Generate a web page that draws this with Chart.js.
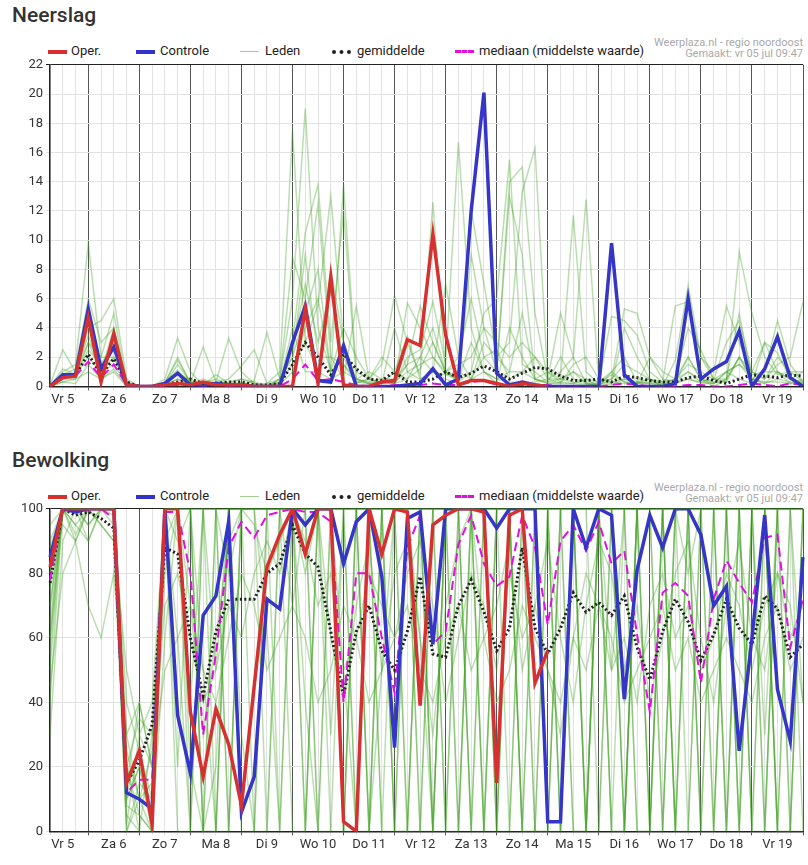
<!DOCTYPE html>
<html>
<head>
<meta charset="utf-8">
<script src="https://cdn.jsdelivr.net/npm/chart.js@4"></script>
<style>
  body { margin: 0; background: #fff; font-family: Roboto, "Liberation Sans", sans-serif; color: #333; }
  .wrap { position: relative; width: 808px; height: 865px; }
  .title { position: absolute; left: 12px; font-size: 21px; font-weight: 500; color: #333; }
  .legend { position: absolute; left: 0; font-size: 13px; color: #222; white-space: nowrap; }
  .legend span.item { position: absolute; top: 0; }
  .sw { position: absolute; top: 7px; width: 19px; height: 0; }
  .credit { position: absolute; right: 5px; font-size: 11px; color: #aaa; text-align: right; line-height: 11px; }
  canvas { position: absolute; left: 0; }
</style>
</head>
<body>
<div class="wrap">
  <div class="title" style="top:3px">Neerslag</div>
  <div class="credit" style="top:37px">Weerplaza.nl - regio noordoost<br>Gemaakt: vr 05 jul 09:47</div>
  <div class="legend" style="top:43px" id="leg1"></div>
  <div style="position:absolute;top:54px;left:0;width:808px;height:356px"><canvas id="c1"></canvas></div>

  <div class="title" style="top:448px">Bewolking</div>
  <div class="credit" style="top:482px">Weerplaza.nl - regio noordoost<br>Gemaakt: vr 05 jul 09:47</div>
  <div class="legend" style="top:488px" id="leg2"></div>
  <div style="position:absolute;top:498px;left:0;width:808px;height:357px"><canvas id="c2"></canvas></div>
</div>
<script>
// 6-hourly steps from Vr 5 06:00 to Do 20 00:00
const days = ["Vr 5", "Za 6", "Zo 7", "Ma 8", "Di 9", "Wo 10", "Do 11", "Vr 12", "Za 13", "Zo 14", "Ma 15", "Di 16", "Wo 17", "Do 18", "Vr 19", "Za 20"];
const hours = ["06", "12", "18", "24"];

// Neerslag (mm)
const rainOper = [0,0.6,0.7,4.7,0.3,3.6,0.1,0,0,0.1,0.2,0.1,0.3,0.1,0.1,0.1,0,0,0,0,5.3,0.2,7.5,0.1,0,0,0.3,0.4,3.2,2.8,10.4,3.5,0.1,0.4,0.4,0.2,0,0.2,0.1,0];
const rainControle = [0,0.8,0.8,5.3,1.2,2.7,0.1,0,0,0.2,0.9,0.1,0,0.2,0.1,0.1,0,0,0,3.0,5.5,0.4,0.3,2.8,0,0,0,0,0.1,0.2,1.2,0.1,0.5,12,20.1,0.9,0.1,0.3,0.1,0,0,0,0,0,9.8,0.8,0,0,0,0.2,6.0,0.5,1.2,1.7,3.8,0,1.2,3.4,0.6,0];
const rainMean = [0,0.7,0.8,2.2,0.8,1.9,0.3,0,0,0.1,0.3,0.5,0.2,0.2,0.3,0.3,0.1,0.1,0.2,1.5,3.0,2.0,0.8,2.2,1.2,0.5,0.4,1.0,0.3,0.3,0.5,1.0,0.6,0.9,1.4,1.0,0.5,0.9,1.3,1.2,0.7,0.4,0.4,0.5,0.3,0.7,0.6,0.4,0.3,0.3,0.6,0.7,0.4,0.2,0.5,0.8,0.7,0.6,0.8,0.7];
const rainMedian = [0,0.6,0.7,1.7,0.6,1.5,0.1,0,0,0,0.1,0.1,0,0.1,0,0,0,0,0,0.5,1.5,0.4,0.5,0.3,0.1,0,0,0.1,0.1,0.1,0.2,0.1,0.1,0.3,0.4,0.1,0.1,0.1,0.1,0.1,0,0,0,0,0.1,0.2,0.1,0,0,0,0.1,0.1,0,0,0.1,0.2,0.1,0,0.2,0.1];
const rainLeden = [
  [0,0.5,1,3,1,4,0.2,0,0,0.1,1.5,0.3,0.2,0.5,0.1,0.3,0,0,0.5,6,19,4,1,2,0.3,0.5,0.2,1,0.5,1.2,3,1,0.5,3,1,0.2,4,2,0.5,1,0.3,0.2,0.5,0,1,0.3,0.2,0.5,0,0.3,2,0.5,0.2,1,0.5,0.2,3,1,0.2,0.5],
  [0,1,1.5,9.8,2,2,0.1,0,0,0.5,3.3,1,0.1,0.3,3.3,1,0.2,0,0.3,3,10.5,13.8,3,12,0.5,1,0.5,0.2,1.5,5.5,3,1,2,6,2,1,14,15,5,0.5,1,2,0.2,0.1,0.5,5.3,5,2,0.5,0.3,1,0.5,0,0.5,2,0.5,0.2,1,0.5,0.2],
  [0.1,2.5,1,4,4.5,6,0.5,0,0,0.3,1.1,0.2,2.7,0.3,0.5,1.4,2.5,0.2,0.5,8.8,6,12.5,2,1.5,0.2,0.5,1.5,6.2,3,0.8,12.6,1,0.5,12.1,7,2,3,13.3,16.3,0.5,5,2,12.8,0.3,1,2,0.3,0.5,0,1.8,6.9,2,0.5,3,4.5,1,0.5,2,1,0.3],
  [0,0.5,0.8,2,1,2,0.3,0,0.1,0.2,0.8,0.5,0.1,0.8,0.2,0.1,0.4,3.7,0.5,2,5,8,1,4,2,0.5,0.3,0.2,5.7,4,2,1,0.3,1,5,6,15.5,1.5,1,0.3,0.5,11.7,1,0.2,4.8,4.5,3.5,1,0.3,5.5,5.8,2,1,5.5,3,1,0.5,1.5,2,5.8],
  [0,0.8,1.2,6,3,4,0.2,0,0,0.2,2,0.2,0.5,0.2,0.3,0.5,0.2,0.2,1,17.5,3,5.6,13,3,0.3,0.2,0.3,0.2,2,2.5,5.8,1.5,16.7,4,1,0.5,1,1,0.5,0.2,0.3,1,0.2,0,0.1,0.5,0.3,0.2,0.1,0.5,1,0.3,0.2,1,1.5,0.5,1,4.5,1.5,0.3],
  [0,0.3,0.5,3,2,5,0.1,0,0,0.1,0.5,0.1,0.1,0.2,0.1,0.1,0,0,0.1,1,4,6,1,13.8,1,0.5,2,1,3.4,0.5,1,7,2,0.5,3,2,1,5,0.5,0.3,2,0.5,0.3,0.2,0.8,0.3,0.2,2,1,0.5,2,0.5,0.3,0.3,9.2,5,2,0.8,1,1],
  [0,0.5,0.5,1,0.5,1,0,0,0,0,0.3,0.1,0.1,0.1,0,0.1,0,0,0.2,4,1,1,8,3,0.5,0.2,0.3,0.2,0.5,2,1,0.8,0.5,9,4,1,13,9,0.5,0.2,0.2,0.2,0.1,0.2,0.3,0.2,0.2,0.2,0.1,0.3,0.5,0.2,0.2,0.5,5,0.5,0.2,0.5,0.3,0.2],
  [0,1.2,0.8,2.5,1.5,3,0.2,0,0,0.3,1.8,0.3,0.2,0.3,0.2,0.5,0.3,0,0.5,2,9,2,2,0.5,5.5,0.5,0.2,0.3,1,1.5,2,0.8,1,0.5,2,2.5,0.5,1,2,1,0.5,0.3,0.2,0.1,0.2,4,2,0.5,0.3,0.5,4,2.5,0.5,0.5,2,1,3,2.3,0.5,1],
  [0,0.3,0.2,1.5,0.5,1.2,0,0,0,0.1,0.5,0.1,0.1,0.1,0.1,0.1,0.1,0.1,0.2,1.5,3,1,0.5,1,0.5,0.2,0.2,4,1,0.5,1,0.5,0.2,0.5,1,0.5,0.3,0.2,0.3,0.5,0.2,1.5,2,0.5,0.3,0.5,0.2,0.3,0.2,0.2,0.5,0.3,0.5,0.3,2,0.5,0.3,0.3,0.2,0.1],
  [0,0.6,0.9,3.5,1,1.5,0.2,0,0,0.2,1,0.3,0.1,0.2,0.1,0.2,0.1,0,0.3,2.5,7,3,6.5,1.5,0.5,0.3,0.5,0.5,1.5,2,4,1,1.5,2,4,3,2,3,2,0.5,0.5,1,0.5,0.3,0.5,1.5,1,0.5,0.2,0.5,1.5,1,0.5,1,1.5,0.8,1,1,0.5,0.3]
];
const rainTicks = [0, 2, 4, 6, 8, 10, 12, 14, 16, 18, 20, 22];

// Bewolking (%)
const cloudOper = [82,100,100,100,100,100,15,25,2,100,100,37,17,38,27,8,45,82,92,100,86,100,100,3,0,100,86,100,99,39,95,98,100,100,99,15,98,100,46,56];
const cloudControle = [85,100,99,100,100,100,12,10,7,100,36,18,67,73,96,6,17,72,69,100,95,100,100,83,96,100,79,26,97,99,58,100,100,100,100,94,100,100,100,3,3,100,88,100,98,41,81,98,88,100,100,92,70,76,25,60,98,44,28,85];
const cloudMean = [77,100,98,99,97,94,15,22,33,88,86,60,42,62,72,72,72,80,83,95,86,82,62,42,62,70,56,50,62,79,55,54,70,78,68,56,63,88,63,55,63,74,68,71,67,73,57,47,62,72,65,53,61,72,63,58,73,69,54,58];
const cloudMedian = [78,100,99,100,100,97,12,16,16,99,99,80,30,55,88,96,91,98,99,100,99,99,96,40,80,80,60,43,88,98,58,62,89,98,83,76,79,98,88,64,90,95,87,96,83,87,61,37,74,77,73,46,72,84,77,71,91,92,57,72];
const cloudLeden = [
  [60,100,100,100,100,100,5,0,30,100,100,100,0,0,100,100,100,62,0,100,100,100,100,100,0,0,50,100,100,100,100,0,100,100,100,100,100,0,0,100,100,100,0,100,50,100,100,100,100,0,100,100,100,100,0,100,30,100,100,100],
  [90,100,95,100,100,100,30,10,0,100,60,0,0,100,80,100,100,100,100,100,40,0,0,100,100,100,100,0,100,60,0,100,100,100,100,0,100,100,100,100,100,0,0,0,100,100,100,100,0,100,80,100,100,100,0,100,100,100,100,40],
  [50,100,100,90,100,100,10,20,5,100,100,100,100,100,0,100,100,100,100,100,0,100,100,0,0,100,100,100,100,100,0,0,100,100,100,0,100,100,100,100,0,100,100,100,0,0,100,100,100,100,0,100,100,100,100,100,0,100,100,100],
  [80,100,100,100,95,90,0,15,10,80,100,100,0,20,100,100,100,100,100,100,100,100,100,50,0,100,100,100,100,0,0,100,100,100,100,100,0,100,100,100,100,100,100,0,100,100,100,0,100,100,100,100,0,100,100,100,100,100,0,100],
  [70,100,92,100,100,100,20,0,0,100,100,40,100,100,100,100,0,0,100,100,100,100,100,0,100,100,100,0,0,100,100,100,100,0,100,100,100,100,0,0,100,100,100,100,100,0,100,100,100,100,100,0,0,100,100,100,100,0,100,100],
  [85,100,100,95,100,100,2,30,40,100,0,0,100,100,100,100,100,100,100,70,100,100,100,100,0,100,100,100,0,0,100,100,100,100,100,0,0,100,100,100,100,100,0,100,100,100,100,0,0,100,100,100,100,100,0,100,100,0,0,100],
  [40,100,100,100,100,98,8,5,0,100,90,100,100,100,100,0,0,100,100,100,100,100,100,0,100,100,100,100,100,0,100,100,100,0,0,100,100,100,100,100,0,100,100,100,100,0,100,100,100,100,100,0,100,100,100,0,100,100,100,100],
  [95,100,100,100,100,100,15,40,20,100,100,0,100,50,100,100,100,100,0,100,100,100,100,100,100,0,100,100,100,100,100,0,0,100,100,100,100,0,100,100,100,0,0,100,100,100,100,100,0,100,100,100,100,100,100,0,0,100,100,100],
  [75,100,90,100,100,100,25,10,15,100,100,100,0,0,100,100,100,100,100,0,0,100,100,100,100,100,100,0,0,100,100,100,100,100,0,100,100,100,100,0,0,100,100,100,100,100,0,0,100,100,100,100,0,100,100,100,100,0,0,100],
  [65,100,100,100,100,100,40,25,5,100,20,100,100,100,0,100,100,100,100,100,100,0,100,100,100,100,0,100,100,100,100,100,0,100,100,100,100,0,0,100,100,100,100,100,0,0,100,100,100,0,100,100,100,0,100,100,100,100,100,100],
  [80,95,90,100,95,90,50,30,20,70,80,60,40,50,70,60,80,90,80,100,90,70,80,50,60,80,70,60,80,90,70,40,60,80,70,50,80,60,70,50,30,60,80,70,50,60,40,70,80,60,70,50,60,80,70,50,70,80,60,70],
  [70,100,95,90,100,95,20,35,30,90,100,70,30,60,90,100,95,80,90,100,80,100,60,40,70,90,50,80,90,60,30,70,90,100,60,70,90,50,70,90,60,40,70,90,80,50,70,40,60,80,90,60,40,70,90,60,50,80,70,40],
  [55,100,100,100,100,100,0,10,25,100,100,100,100,0,0,100,100,100,100,100,100,100,0,0,100,100,100,100,100,100,0,100,100,100,0,0,100,100,100,100,0,100,100,100,100,100,0,0,100,100,100,100,100,0,100,100,100,100,0,0],
  [88,100,100,100,100,100,10,20,0,100,100,20,0,100,100,100,100,100,100,100,0,100,100,100,100,100,0,0,100,100,100,100,100,100,0,100,100,100,0,0,100,100,100,100,100,0,100,100,100,0,0,100,100,100,100,0,100,100,100,100],
  [30,90,100,100,100,100,20,5,0,60,100,100,100,100,100,30,0,100,100,100,100,0,100,100,100,0,100,100,100,100,0,100,100,0,100,100,100,100,100,0,100,100,0,100,100,100,100,0,100,100,100,0,100,100,100,100,100,0,100,0],
  [60,100,100,95,100,100,12,25,10,100,100,100,50,0,100,100,100,0,100,100,100,100,30,100,100,0,100,100,0,100,100,100,0,100,100,100,100,0,100,100,100,100,0,100,0,100,100,100,100,0,100,100,100,0,100,100,0,100,100,100],
  [45,80,90,70,60,80,30,40,20,50,60,70,50,40,60,80,70,50,60,70,60,40,50,70,60,40,50,60,70,50,40,60,70,50,60,40,50,70,60,50,40,60,50,70,60,40,50,60,70,50,60,40,50,60,50,40,60,70,50,60]
];
const cloudTicks = [0, 20, 40, 60, 80, 100];

const labels = [];
for (let d = 0; d < 15; d++) {
  for (let h = 0; h < 4; h++) labels.push(days[d] + " " + hours[h]);
}

function legendHtml(el) {
  el.innerHTML =
    '<span class="item" style="left:48px"><span class="sw" style="border-top:4px solid #d63031;left:0"></span><span style="margin-left:23px">Oper.</span></span>' +
    '<span class="item" style="left:136px"><span class="sw" style="border-top:4px solid #3333cc;left:0"></span><span style="margin-left:24px">Controle</span></span>' +
    '<span class="item" style="left:240px"><span class="sw" style="border-top:1px solid #9fd08f;top:8px;left:0"></span><span style="margin-left:25px">Leden</span></span>' +
    '<span class="item" style="left:332px"><span class="sw" style="border-top:4px dotted #222;left:0"></span><span style="margin-left:25px">gemiddelde</span></span>' +
    '<span class="item" style="left:455px"><span class="sw" style="border-top:3px dashed #e010e0;left:0"></span><span style="margin-left:24px">mediaan (middelste waarde)</span></span>';
}

function makeChart(id, oper, controle, mean, median, leden, ticks) {
  const sets = [
    { data: oper, borderColor: "#d63031", borderWidth: 3.5, order: 0 },
    { data: controle, borderColor: "#3535c8", borderWidth: 3.5, order: 1 },
    { data: median, borderColor: "#e010e0", borderWidth: 2, borderDash: [9, 5], order: 2 },
    { data: mean, borderColor: "#222", borderWidth: 3, borderDash: [2, 2.5], order: 3 }
  ];
  leden.forEach(m => sets.push({ data: m.slice(0, labels.length), borderColor: "rgba(60,160,30,0.35)", borderWidth: 1.5, order: 10 }));
  sets.forEach(s => { s.pointRadius = 0; s.tension = 0; s.fill = false; });
  const max = ticks[ticks.length - 1];
  new Chart(document.getElementById(id), {
    type: "line",
    data: { labels, datasets: sets },
    options: {
      responsive: true,
      maintainAspectRatio: false,
      animation: false,
      layout: { padding: { top: 8, right: 5 } },
      plugins: { legend: { display: false }, tooltip: { enabled: false } },
      scales: {
        x: {
          offset: false,
          border: { color: "#222", width: 1.5 },
          grid: {
            color: c => (c.index % 4 === 3 ? "#555" : "#e2e2e2"),
            lineWidth: 1,
            tickLength: 4
          },
          ticks: {
            autoSkip: false,
            maxRotation: 0,
            padding: 2,
            color: "#333",
            font: { family: "Roboto", size: 13 },
            callback: (v, i) => (i % 4 === 1 ? days[Math.floor(i / 4)] : "")
          }
        },
        y: {
          min: 0,
          max,
          afterFit: s => { s.width = 50; },
          afterBuildTicks: s => { s.ticks = ticks.map(v => ({ value: v })); },
          border: { color: "#222", width: 1.5 },
          grid: { color: c => (c.tick.value === max ? "#222" : "#e2e2e2"), tickLength: 4 },
          ticks: { color: "#333", padding: 3, font: { family: "Roboto", size: 13 } }
        }
      }
    }
  });
}

legendHtml(document.getElementById("leg1"));
legendHtml(document.getElementById("leg2"));
makeChart("c1", rainOper, rainControle, rainMean, rainMedian, rainLeden, rainTicks);
makeChart("c2", cloudOper, cloudControle, cloudMean, cloudMedian, cloudLeden, cloudTicks);
</script>
</body>
</html>
